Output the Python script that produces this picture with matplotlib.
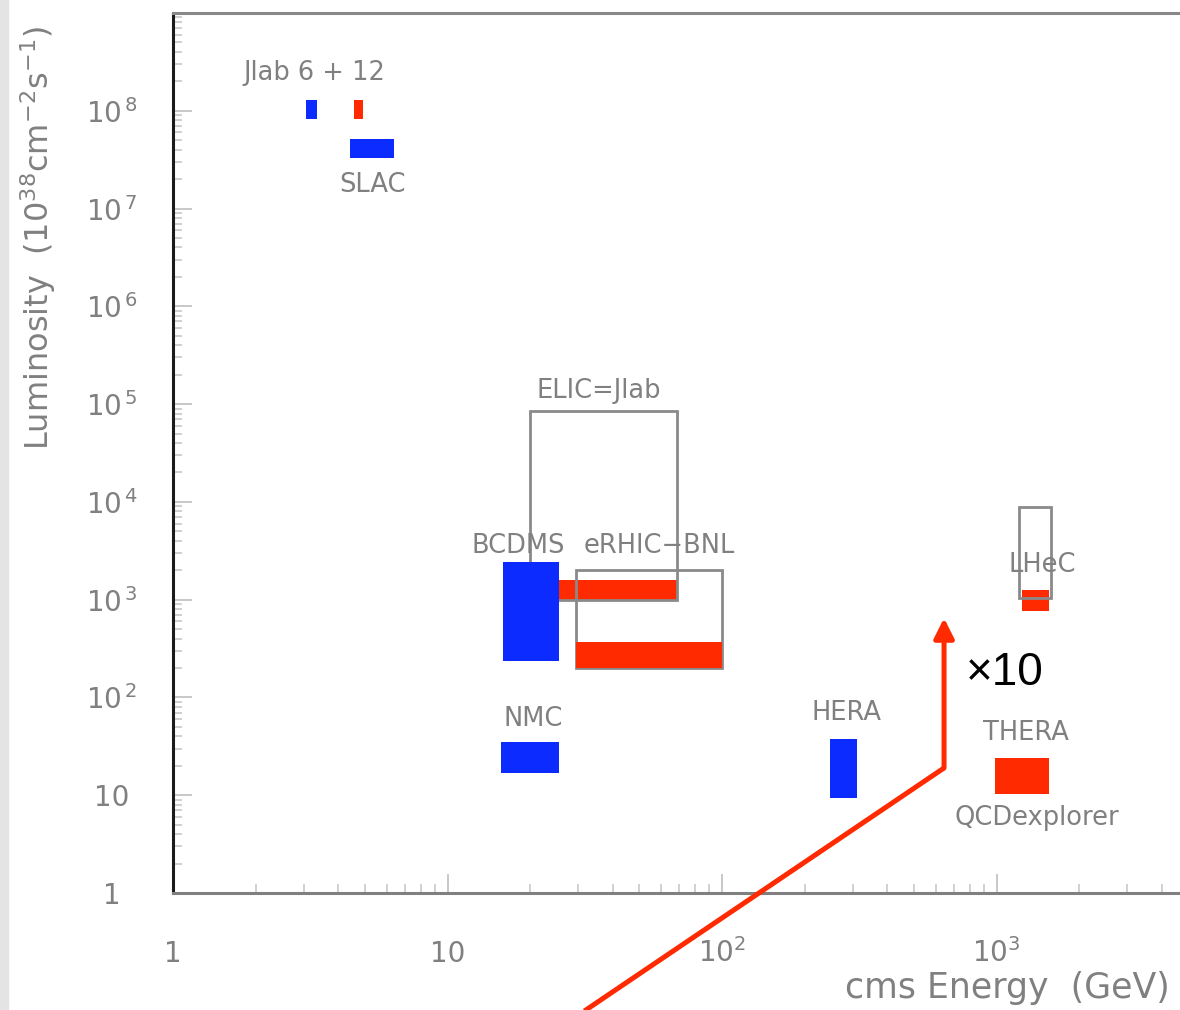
import matplotlib
matplotlib.use("Agg")
import matplotlib.pyplot as plt
from matplotlib.patches import Rectangle

# facilities: energy range (GeV) and luminosity range (1e38 cm^-2 s^-1)
blue_names = ["Jlab 6", "SLAC", "BCDMS", "NMC", "HERA"]
blue_e_lo = [3.05, 4.4, 15.9, 15.7, 247]
blue_e_hi = [3.35, 6.4, 25.5, 25.5, 310]
blue_l_lo = [8.2e7, 3.3e7, 236, 17, 9.4]
blue_l_hi = [1.28e8, 5.1e7, 2420, 35, 38]

red_names = ["Jlab 12", "ELIC", "eRHIC", "LHeC", "THERA"]
red_e_lo = [4.57, 20, 29.4, 1240, 990]
red_e_hi = [4.92, 68.6, 100, 1550, 1550]
red_l_lo = [8.2e7, 990, 200, 770, 10.3]
red_l_hi = [1.28e8, 1590, 370, 1250, 24]

box_names = ["ELIC", "eRHIC", "LHeC"]
box_e_lo = [20, 29.4, 1208]
box_e_hi = [68.6, 100, 1580]
box_l_lo = [990, 200, 1040]
box_l_hi = [8.5e4, 2000, 8850]

labels = ["Jlab 6 + 12", "SLAC", "ELIC=Jlab", "BCDMS", "eRHIC\u2212BNL",
          "LHeC", "NMC", "HERA", "THERA", "QCDexplorer"]
label_e = [3.26, 5.35, 35.6, 18.1, 58.9, 1465, 20.5, 283, 1280, 1405]
label_l = [2.42e8, 1.73e7, 1.36e5, 3530, 3530, 2260, 60, 69, 43, 5.85]

arrow_e = [25, 644]
arrow_l = [0.04, 19]
arrow_top = 649

xticks = [1, 10, 100, 1000]
xtick_labels = ["1", "10", r"$10^{2}$", r"$10^{3}$"]
yticks = [1, 10, 1e2, 1e3, 1e4, 1e5, 1e6, 1e7, 1e8]
ytick_labels = ["1", "10"] + [r"$10^{\,%d}$" % k for k in range(2, 9)]

BLUE = "#0c2cff"
RED = "#ff2a00"
GRAY = "#8a8a8a"
TXT = "#808080"

fig = plt.figure(figsize=(11.8, 10.1), dpi=100)
ax = fig.add_axes([173 / 1180, 117 / 1010, 1098 / 1180, 880 / 1010])
ax.set_xscale("log")
ax.set_yscale("log")
ax.set_xlim(1, 1e4)
ax.set_ylim(1, 1e9)

def bars(elo, ehi, llo, lhi, **kw):
    w = [h - l for l, h in zip(elo, ehi)]
    hgt = [h - l for l, h in zip(llo, lhi)]
    ax.bar(elo, hgt, width=w, bottom=llo, align="edge", **kw)

bars(red_e_lo[1:2], red_e_hi[1:2], red_l_lo[1:2], red_l_hi[1:2], color=RED, zorder=2)
bars(box_e_lo, box_e_hi, box_l_lo, box_l_hi, fill=False, edgecolor=GRAY, linewidth=2, zorder=3)
bars(red_e_lo[2:3], red_e_hi[2:3], red_l_lo[2:3], red_l_hi[2:3], color=RED, zorder=4)
bars(red_e_lo[0:1], red_e_hi[0:1], red_l_lo[0:1], red_l_hi[0:1], color=RED, zorder=4)
bars(red_e_lo[3:], red_e_hi[3:], red_l_lo[3:], red_l_hi[3:], color=RED, zorder=2)
bars(blue_e_lo, blue_e_hi, blue_l_lo, blue_l_hi, color=BLUE, zorder=5)

for t, e, l in zip(labels, label_e, label_l):
    ax.text(e, l, t, ha="center", va="center", fontsize=18.5, color=TXT, zorder=6)

ax.plot(arrow_e, arrow_l, color=RED, lw=3.6, clip_on=False, zorder=7,
        solid_capstyle="butt")
ax.annotate("", xy=(arrow_e[1], arrow_top), xytext=(arrow_e[1], arrow_l[1]),
            arrowprops=dict(arrowstyle="-|>", color=RED, lw=3.6,
                            mutation_scale=30, shrinkA=0, shrinkB=0),
            zorder=7)
ax.text(1074, 178, "\u00d710", ha="center", va="center", fontsize=33,
        family="Liberation Sans", color="black")

ax.set_xticks(xticks, xtick_labels)
ax.set_yticks(yticks, ytick_labels)
ax.tick_params(which="major", direction="in", length=14, width=1.4, color="#c8c8c8",
               labelsize=20, labelcolor=TXT)
ax.tick_params(which="minor", direction="in", length=6.5, width=1.4, color="#d0d0d0")
ax.tick_params(axis="y", which="major", pad=44)
ax.tick_params(axis="x", which="major", pad=50)
for lbl in ax.get_yticklabels():
    lbl.set_ha("center")
for lbl in ax.get_xticklabels():
    lbl.set_va("baseline")

ax.spines["left"].set_color("#1a1a1a")
ax.spines["left"].set_linewidth(2.2)
ax.spines["bottom"].set_color("#808080")
ax.spines["bottom"].set_linewidth(2.2)
ax.spines["top"].set_color("#888888")
ax.spines["top"].set_linewidth(2.2)
ax.spines["right"].set_visible(False)

fig.text(845 / 1180, 1 - 988 / 1010, "cms Energy  (GeV)", ha="left", va="center",
         fontsize=25, color=TXT)
fig.text(38 / 1180, 1 - 238 / 1010,
         r"Luminosity  (10$^{38}$cm$^{-2}$s$^{-1}$)", rotation=90,
         ha="center", va="center", fontsize=23, color=TXT)
fig.add_artist(Rectangle((0, 0), 8 / 1180, 1, transform=fig.transFigure,
                         color="#e4e4e4", zorder=0))

fig.savefig("out.png", dpi=100)
